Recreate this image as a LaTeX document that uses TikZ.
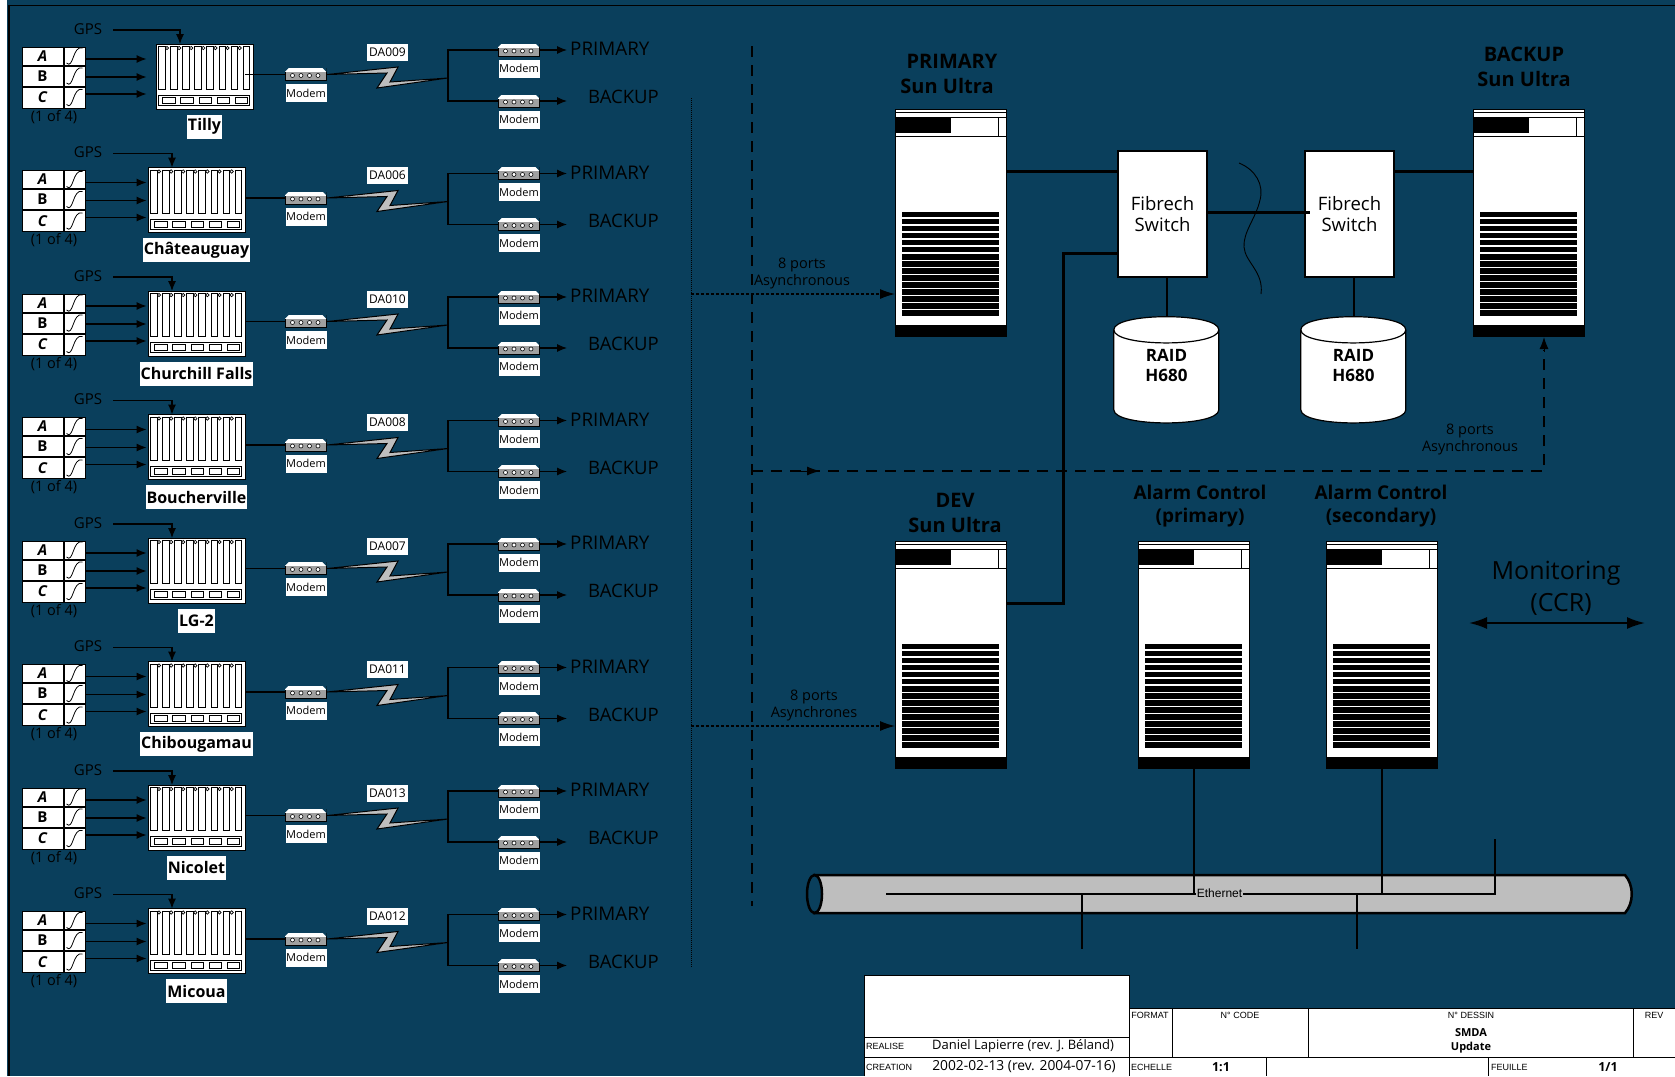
\documentclass[tikz,border=0pt]{standalone}
\usepackage{fontspec}
\setmainfont{Open Sans}
\newfontfamily\tagfont{Liberation Sans}
\usetikzlibrary{arrows.meta,positioning,shapes.geometric}
\definecolor{board}{HTML}{0A3F5C}
\definecolor{tube}{HTML}{BEBEBE}
\definecolor{metal}{HTML}{A0A0A0}
\newcommand{\fs}[1]{\fontsize{#1}{#1}\selectfont}
\tikzset{
  sig/.style={line width=1.1pt, -{Latex[length=10pt,width=8pt]}},
  wire/.style={line width=1.1pt},
  heavy/.style={line width=3pt},
  longdash/.style={line width=1.3pt, dash pattern=on 11pt off 8pt},
  whitetag/.style={fill=white, inner sep=1pt, text=black},
  modemtag/.style={whitetag, minimum width=41pt, minimum height=18pt, inner sep=0pt, font=\fs{11}},
  sitetag/.style={whitetag, font=\bfseries\fs{16}, minimum height=24pt},
  phasecell/.style={draw=black, fill=white, line width=1pt, minimum width=41pt, inner sep=0pt},
  wavecell/.style={draw=black, fill=white, line width=1pt, minimum width=21pt, inner sep=0pt},
  modemunit/.style={draw=black, line width=1pt, fill=metal, minimum width=41pt, minimum height=12pt, inner sep=0pt},
  rackunit/.style={draw=black, fill=white, line width=1pt, minimum width=97pt, minimum height=65pt, inner sep=0pt},
  serverunit/.style={draw=black, fill=white, line width=1pt, minimum width=111pt, minimum height=227pt, inner sep=0pt},
  modemface/.pic={
    \fill[white] (0,0) rectangle (41,4);
    \fill[board] (-.5,-.5) -- (4,-.5) -- (-.5,4) -- cycle (41.5,-.5) -- (37,-.5) -- (41.5,4) -- cycle;
    \foreach \m in {7.5,16,24.5,33}
      \draw[black, fill=white, line width=.6pt] (\m,7.5) circle (2pt);
  },
  rackface/.pic={
    \foreach \s in {0,...,7}
      \draw[black, line width=.9pt] (3+\s*12.1,3) rectangle (9.5+\s*12.1,46);
    \foreach \s in {0,...,6}
      \draw[black, fill=white, line width=.7pt] (11.5+\s*12.1,4.5) circle (1.7pt);
    \draw[black, line width=.9pt] (3,52) rectangle (94,62);
    \foreach \s in {0,...,4}
      \draw[black, line width=.8pt] (7+\s*18.2,54) rectangle (19.5+\s*18.2,60);
  },
  serverface/.pic={
    \draw[black, line width=.8pt] (0,4) -- (111,4);
    \fill[black] (0,9) rectangle (56,24);
    \draw[black, line width=.8pt] (0,9) -- (111,9) (0,28) -- (111,28) (103,9) -- (103,28);
    \foreach \s in {0,...,14}
      \fill[black] (7,103+\s*7.07) rectangle (104,103+\s*7.07+5.6);
    \fill[black] (-.5,216.5) rectangle (111.5,227.5);
  },
  raidface/.pic={
    \draw[black, fill=white, line width=1.2pt] (0,13) .. controls (0,-4.5) and (105,-4.5) .. (105,13) -- (105,93) .. controls (105,110.5) and (0,110.5) .. (0,93) -- cycle;
    \draw[black, line width=1.2pt] (0,13) .. controls (0,30.5) and (105,30.5) .. (105,13);
  },
  switchunit/.style={draw=black, fill=white, line width=1.2pt, minimum width=89pt, minimum height=126pt,
    align=center, font=\fs{18.5}, text=black, inner sep=0pt},
  raidunit/.style={minimum width=105pt, minimum height=106pt, inner sep=0pt},
  raidtext/.style={font=\bfseries\fs{17}, inner sep=0pt, align=center},
  heading/.style={align=center, font=\bfseries\fs{20}, inner sep=0pt},
  alarmhead/.style={heading, font=\bfseries\fs{19}},
  portnote/.style={align=center, font=\fs{14.5}, inner sep=0pt},
  titleline/.style={draw=black, line width=.8pt},
  cellword/.style={font=\tagfont\fs{9}, inner sep=0pt},
  cellvalue/.style={font=\fs{13}, inner sep=0pt},
}
\begin{document}
\begin{tikzpicture}[x=1pt, y=-1pt]
  \useasboundingbox (0,0) rectangle (1675,1076);
  \fill[white] (0,0) rectangle (1675,1076);
  \fill[board] (7,0) rectangle (1675,1076);
  \draw[black, line width=1.6pt] (9,1076) -- (9,5.5) -- (1675,5.5);

  % the eight sites
  \foreach \i/\site/\line/\off in {0/Tilly/DA009/8, 1/Châteauguay/DA006/0, 2/Churchill Falls/DA010/0,
      3/Boucherville/DA008/0, 4/LG-2/DA007/0, 5/Chibougamau/DA011/0, 6/Nicolet/DA013/0, 7/Micoua/DA012/0} {
    \begin{scope}[shift={(0,\i*123.5)}]
      \node[font=\fs{15}, inner sep=0pt] (gps\i) at (88,29) {GPS};
      \coordinate (gpsfrom\i) at (113,30);
      \coordinate (gpsin\i) at (172+\off,44);
      \node[rackunit] (rack\i) at (196.5+\off,76.5) {};
      \pic at (rack\i.north west) {rackface};
      \draw[sig] (gpsfrom\i) -| (gpsin\i);

      \node[phasecell, minimum height=18pt, font=\bfseries\itshape\fs{15}] (phaseA\i) at (42.5,56) {A};
      \node[phasecell, minimum height=20pt, font=\bfseries\fs{15}, below=0pt of phaseA\i] (phaseB\i) {B};
      \node[phasecell, minimum height=21pt, font=\bfseries\itshape\fs{15}, below=0pt of phaseB\i] (phaseC\i) {C};
      \node[wavecell, minimum height=18pt, right=0pt of phaseA\i] (waveA\i) {};
      \node[wavecell, minimum height=20pt, right=0pt of phaseB\i] (waveB\i) {};
      \node[wavecell, minimum height=21pt, right=0pt of phaseC\i] (waveC\i) {};
      \foreach \w in {A,B,C}
        \draw[black, line width=.8pt, shift={(wave\w\i.center)}] (-8,7) .. controls (-1,14) and (-2,-11) .. (8,-8);
      \node[font=\fs{14.5}, inner sep=0pt] (share\i) at (54,117) {(1 of 4)};
      \draw[sig] ([yshift=-3pt]waveA\i.east) -- ++(61,0);
      \draw[sig] ([yshift=-1pt]waveB\i.east) -- ++(61,0);
      \draw[sig] ([yshift=3.5pt]waveC\i.east) -- ++(61,0);

      \node[sitetag, below=5pt of rack\i] (site\i) {\site};
      \node[modemunit] (modemL\i) at (306,74.5) {};
      \pic at (modemL\i.north west) {modemface};
      \node[modemtag, below=3pt of modemL\i] (tagL\i) {Modem};
      \coordinate (rackout\i) at (245,74.5);
      \draw[wire] (rackout\i) -- (modemL\i.west);

      \coordinate (fork\i) at (448,78);
      \draw[draw=black, fill=tube, line width=1pt] (modemL\i.east) -- (398,67) -- (390,82) -- (fork\i) -- (377,88) -- (387,73) -- cycle;
      \node[whitetag, font=\fs{12}, minimum width=41pt, minimum height=17pt] (link\i) at (387.5,52) {\line};

      \node[modemunit] (modemP\i) at (519,50) {};
      \pic at (modemP\i.north west) {modemface};
      \node[modemtag, below=3pt of modemP\i] (tagP\i) {Modem};
      \node[modemunit] (modemB\i) at (519,101) {};
      \pic at (modemB\i.north west) {modemface};
      \node[modemtag, below=3pt of modemB\i] (tagB\i) {Modem};
      \draw[wire] (fork\i) |- (modemP\i.west);
      \draw[wire] (fork\i) |- (modemB\i.west);
      \draw[sig] (modemP\i.east) -- ++(27,0);
      \draw[sig] (modemB\i.east) -- ++(27,0);
      \node[font=\fs{18.8}, inner sep=0pt, anchor=west] (toP\i) at (570,49) {PRIMARY};
      \node[font=\fs{18.5}, inner sep=0pt, anchor=west] (toB\i) at (588,97) {BACKUP};
    \end{scope}
  }

  % servers, switches and disks
  \foreach \n/\x/\y in {primary/951/222.5, backup/1529/222.5, dev/951/654.5, alarmP/1194/654.5, alarmS/1382/654.5} {
    \node[serverunit] (\n) at (\x,\y) {};
    \pic at (\n.north west) {serverface};
  }
  \node[heading] at (952,61) {PRIMARY};
  \node[heading] at (947,86) {Sun Ultra};
  \node[heading] at (1524,54) {BACKUP};
  \node[heading] at (1524,79) {Sun Ultra};
  \node[heading] at (955,500) {DEV};
  \node[heading] at (955,525) {Sun Ultra};
  \node[alarmhead] at (1200,492) {Alarm Control};
  \node[alarmhead] at (1200,518) {(primary)};
  \node[alarmhead] at (1381,492) {Alarm Control};
  \node[alarmhead] at (1381,518) {(secondary)};

  \node[switchunit] (switchL) at (1162.5,214) {Fibrech\\[3pt]Switch};
  \node[switchunit] (switchR) at (1349.5,214) {Fibrech\\[3pt]Switch};
  \node[raidunit] (raidL) at (1166.5,370) {};
  \node[raidunit] (raidR) at (1353.5,370) {};
  \pic at (raidL.north west) {raidface};
  \pic at (raidR.north west) {raidface};
  \node[raidtext] (textL) at (1166.5,365) {RAID\\[3pt]H680};
  \node[raidtext] (textR) at (1353.5,365) {RAID\\[3pt]H680};
  \draw[wire] ([xshift=4.5pt]switchL.south) -- ([xshift=4.5pt]switchL.south |- raidL.north);
  \draw[wire] ([xshift=4.5pt]switchR.south) -- ([xshift=4.5pt]switchR.south |- raidR.north);

  \coordinate (pS) at (primary.east |- 0,171);
  \coordinate (bS) at (backup.west |- 0,171);
  \coordinate (dS) at (dev.east |- 0,603);
  \coordinate (sL) at (switchL.west |- 0,253);
  \draw[heavy] (pS) -- (pS -| switchL.west);
  \draw[heavy] (bS) -- (bS -| switchR.east);
  \draw[heavy] (switchL.east |- 0,212) -- (1310,212);
  \draw[heavy] (dS) -- (1063,603) -- (1063,253) -- (sL);
  \draw[line width=.9pt] (1239,163) .. controls (1256,170) and (1264,185) .. (1260,200) .. controls (1256,218) and (1243,232) .. (1244,247) .. controls (1245,262) and (1264,272) .. (1261,294);

  % serial ports
  \draw[line width=1pt, densely dotted] (691,98) -- (691,967);
  \draw[longdash] (752,46) -- (752,906);
  \draw[longdash] (752,471) -- (1544,471) -- (1544,350);
  \draw[-{Latex[length=12pt,width=9pt]}, line width=1pt] (1544,352) -- (1544,337);
  \draw[-{Latex[length=13pt,width=9pt]}, line width=1pt] (800,471) -- (820,471);
  \coordinate (portsP) at (691,294);
  \coordinate (portsD) at (691,726);
  \draw[line width=1.2pt, densely dashed, -{Latex[length=15pt,width=10pt]}] (portsP) -- (portsP -| primary.west);
  \draw[line width=1.2pt, densely dashed, -{Latex[length=15pt,width=10pt]}] (portsD) -- (portsD -| dev.west);
  \node[portnote] (noteP) at (802,273) {8 ports\\[2.5pt]Asynchronous};
  \node[portnote] (noteD) at (814,705) {8 ports\\[2.5pt]Asynchrones};
  \node[portnote] (noteB) at (1470,439) {8 ports\\[2.5pt]Asynchronous};

  % monitoring
  \node[font=\fs{25}, inner sep=0pt] (ccrA) at (1556,573) {Monitoring};
  \node[font=\fs{25}, inner sep=0pt] (ccrB) at (1561,604) {(CCR)};
  \coordinate (ccrL) at (1469,623);
  \coordinate (ccrR) at (1645,623);
  \draw[line width=2pt, {Latex[length=18pt,width=12pt]}-{Latex[length=18pt,width=12pt]}] (ccrL) -- (ccrR);

  % ethernet
  \draw[black, fill=tube, line width=2.5pt] (814,875) -- (1625,875) .. controls (1634,885) and (1634,903) .. (1625,913) -- (814,913) -- cycle;
  \draw[black, fill=board, line width=2.5pt] (814.5,894) ellipse (7.5 and 19);
  \coordinate (lanL) at (886,894);
  \coordinate (lanR) at (1495,894);
  \coordinate (lanT) at (1495,839);
  \coordinate (drop1) at (1082,949);
  \coordinate (drop2) at (1357,949);
  \draw[line width=2.2pt] (lanL) -- (lanR) -- (lanT);
  \draw[line width=2.2pt] (alarmP.south) -- (alarmP.south |- lanL);
  \draw[line width=2.2pt] (alarmS.south) -- (alarmS.south |- lanL);
  \draw[line width=2.2pt] (drop1 |- lanL) -- (drop1);
  \draw[line width=2.2pt] (drop2 |- lanL) -- (drop2);
  \node[fill=tube, inner sep=1pt, font=\tagfont\fs{12}] (lan) at (1219.5,893) {Ethernet};

  % title block
  \fill[white] (864.5,975) rectangle (1129,1076) (1129,1008) rectangle (1675,1076);
  \draw[titleline] (864.5,1076) -- (864.5,975) -- (1129,975) -- (1129,1076);
  \draw[titleline] (864.5,1037) -- (1129,1037) (864.5,1057) -- (1675,1057);
  \draw[titleline] (1129,1008) -- (1675,1008);
  \draw[titleline] (1172,1008) -- (1172,1057) (1308.5,1008) -- (1308.5,1057) (1633,1008) -- (1633,1057);
  \draw[titleline] (1266,1057) -- (1266,1076) (1488,1057) -- (1488,1076);
  \node[cellword, anchor=west] (realise) at (866,1046) {REALISE};
  \node[cellvalue] (author) at (1023,1046) {Daniel Lapierre (rev. J. Béland)};
  \node[cellword, anchor=west] (creation) at (866,1067) {CREATION};
  \node[cellvalue, font=\fs{13.8}] (date) at (1024,1067) {2002-02-13 (rev. 2004-07-16)};
  \node[cellword] (format) at (1150,1015) {FORMAT};
  \node[cellword] (code) at (1240,1015) {N° CODE};
  \node[cellword] (dessin) at (1471,1015) {N° DESSIN};
  \node[cellword] (rev) at (1654,1015) {REV};
  \node[cellvalue, font=\bfseries\fs{11}] (smda) at (1471,1033) {SMDA};
  \node[cellvalue, font=\bfseries\fs{11}] (update) at (1471,1047.5) {Update};
  \node[cellword, anchor=west] (echelle) at (1131,1067) {ECHELLE};
  \node[cellvalue, font=\bfseries\fs{12.5}] (scale) at (1221,1067) {1:1};
  \node[cellword, anchor=west] (feuille) at (1491,1067) {FEUILLE};
  \node[cellvalue, font=\bfseries\fs{12.5}] (sheet) at (1608,1067) {1/1};
\end{tikzpicture}
\end{document}
